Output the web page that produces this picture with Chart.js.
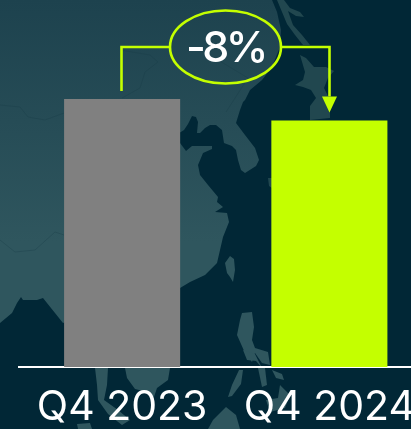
<!DOCTYPE html>
<html lang="en">
<head>
    <meta charset="UTF-8">
    <title>Q4 comparison</title>
    <script src="https://cdn.jsdelivr.net/npm/chart.js"></script>
    <style>
        html, body { margin: 0; padding: 0; overflow: hidden; background: #012736; }
        #wrap { position: relative; width: 411px; height: 429px; overflow: hidden; }
        #map { position: absolute; left: 0; top: 0; }
        #myChart { position: absolute; left: 0; top: 0; }
    </style>
</head>
<body>
    <div id="wrap">
        <!-- backdrop map of East Asia -->
        <svg id="map" width="411" height="429" viewBox="0 0 411 429">
            <defs>
                <linearGradient id="land" x1="0" y1="0" x2="0" y2="1">
                    <stop offset="0" stop-color="#1d424e"/>
                    <stop offset="0.75" stop-color="#2f565e"/>
                    <stop offset="1" stop-color="#2f565e"/>
                </linearGradient>
            </defs>
            <rect width="411" height="429" fill="#012736"/>
            <g fill="url(#land)">
                <path d="M0 0 L272 0 L277 12 L281 30 L280 47 L272 67 L262 80 L250 90 L245 100 L243 102 L240 110 L236 123 L245 135 L255 148 L259 160 L256 166 L245 173 L241 170 L238 160 L236 150 L232 146 L224 143 L222 130 L216 125 L210 125 L205 128 L200 133 L197 133 L198 122 L196 117 L192 116 L188 124 L184 130 L176 135 L180 143 L186 151 L192 146 L212 146 L212 149 L203 153 L198 165 L200 175 L208 185 L218 197 L217 202 L223 207 L215 212 L227 213 L229 222 L223 237 L217 263 L205 275 L190 282 L180 288 L120 300 L63 323 L55 313 L43 298 L37 300 L23 300 L21 297 L17 303 L12 313 L0 323 Z"/>
            </g>
            <g fill="#21474f">
                <!-- island chain and northern arm -->
                <path d="M277 0 L284 0 L290 8 L300 12 L304 17 L296 16 L288 11 L293 25 L302 35 L310 45 L303 45 L295 35 L287 24 Z"/>
                <!-- Honshu -->
                <path d="M300 55 L306 58 L314 67 L326 67 L334 71 L328 78 L324 88 L330 100 L330 118 L310 120 L310 106 L316 98 L311 90 L303 87 L295 85 L303 80 L305 72 Z"/>
                <path d="M268 178 L272 178 L272 188 L269 186 Z"/>
            </g>
            <g fill="#2f565e">
                <!-- Taiwan -->
                <path d="M230 256 L234 259 L235 270 L233 282 L230 277 L227 273 L225 263 Z"/>
                <!-- Luzon -->
                <path d="M242 313 L252 312 L254 327 L252 340 L255 348 L268 352 L270 365 L262 363 L255 353 L252 362 L245 353 L237 335 L240 320 Z"/>
                <path d="M95 368 L108 368 L107 385 L104 400 L118 410 L130 420 L122 425 L108 414 L98 400 L97 385 Z"/>
                <path d="M125 368 L170 368 L168 380 L157 388 L154 397 L147 392 L135 389 L127 378 Z"/>
                <path d="M77 424 L90 423 L92 429 L78 429 Z"/>
                <path d="M243 370 L241 384 L232 396 L228 397 L232 385 L239 370 Z"/>
                <path d="M226 407 L236 415 L240 429 L208 429 L213 420 Z"/>
                <path d="M243 350 L255 354 L262 368 L256 361 L247 360 Z"/>
                <path d="M258 368 L265 368 L267 385 L262 387 Z"/>
                <path d="M272 370 L282 374 L284 380 L276 378 Z"/>
                <path d="M280 385 L290 395 L285 408 L270 412 L266 400 L278 398 Z"/>
            </g>
            <g fill="none" stroke="#173a45" stroke-width="1" opacity="0.3">
                <path d="M0 105 L20 107 L28 117 L45 120 L64 113"/>
                <path d="M120 50 L150 55 L158 62 L145 72 L140 88 L122 98"/>
                <path d="M0 240 L15 252 L35 250 L55 232 L64 235"/>
                <path d="M218 60 L248 78 L226 112"/>
            </g>
        </svg>
        <canvas id="myChart" width="433" height="429"></canvas>
    </div>

    <script>
        const quarters = ['Q4 2023', 'Q4 2024'];
        const salesIndex = [100, 92];
        const barColors = ['#808080', '#c4ff00'];
        const changeLabel = '-8%';

        const LIME = '#c4ff00';

        // Bracket from the first bar to the second, with the change in a bubble
        const changeBracket = {
            id: 'changeBracket',
            afterDatasetsDraw(chart) {
                const { ctx, scales: { x, y } } = chart;
                const x0 = Math.round(x.getPixelForValue(0)) - 0.5;
                const x1 = Math.round(x.getPixelForValue(1)) + 0.5;
                const top0 = y.getPixelForValue(salesIndex[0]);
                const top1 = y.getPixelForValue(salesIndex[1]);
                const lineY = top0 - 52;
                const cx = (x0 + x1) / 2;
                const rx = 55.5, ry = 36.5;

                ctx.save();
                ctx.strokeStyle = LIME;
                ctx.fillStyle = LIME;
                ctx.lineWidth = 2.6;

                ctx.beginPath();
                ctx.moveTo(x0, top0 - 8);
                ctx.lineTo(x0, lineY);
                ctx.lineTo(cx - rx, lineY);
                ctx.moveTo(cx + rx, lineY);
                ctx.lineTo(x1, lineY);
                ctx.lineTo(x1, top1 - 24);
                ctx.stroke();

                ctx.beginPath();
                ctx.moveTo(x1 - 7.5, top1 - 24);
                ctx.lineTo(x1 + 7.5, top1 - 24);
                ctx.lineTo(x1, top1 - 8);
                ctx.closePath();
                ctx.fill();

                ctx.beginPath();
                ctx.ellipse(cx, lineY, rx, ry, 0, 0, Math.PI * 2);
                ctx.stroke();

                ctx.fillStyle = '#ffffff';
                ctx.font = '500 43px Inter';
                ctx.letterSpacing = '-3.5px';
                ctx.textAlign = 'center';
                ctx.textBaseline = 'middle';
                ctx.fillText(changeLabel, cx, lineY + 2);
                ctx.restore();
            }
        };

        const ctx = document.getElementById('myChart').getContext('2d');
        // tighter tick text than the font's default spacing
        ctx.letterSpacing = '-1.8px';
        const myChart = new Chart(ctx, {
            type: 'bar',
            data: {
                labels: quarters,
                datasets: [{
                    data: salesIndex,
                    backgroundColor: barColors,
                    borderWidth: 0,
                    barPercentage: 0.56,
                    categoryPercentage: 1
                }]
            },
            options: {
                responsive: false,
                animation: false,
                layout: { padding: { left: 18.5, top: 99, right: 0, bottom: 0 } },
                plugins: { legend: { display: false }, tooltip: { enabled: false } },
                scales: {
                    y: { display: false, min: 0, max: 100 },
                    x: {
                        afterFit(scale) { scale.height = 62; },
                        grid: { display: false },
                        border: { color: '#ffffff', width: 2 },
                        ticks: {
                            color: '#ffffff',
                            font: { family: 'Inter', size: 41, weight: 400 },
                            padding: 8,
                            maxRotation: 0,
                            autoSkip: false
                        }
                    }
                }
            },
            plugins: [changeBracket]
        });
    </script>
</body>
</html>
